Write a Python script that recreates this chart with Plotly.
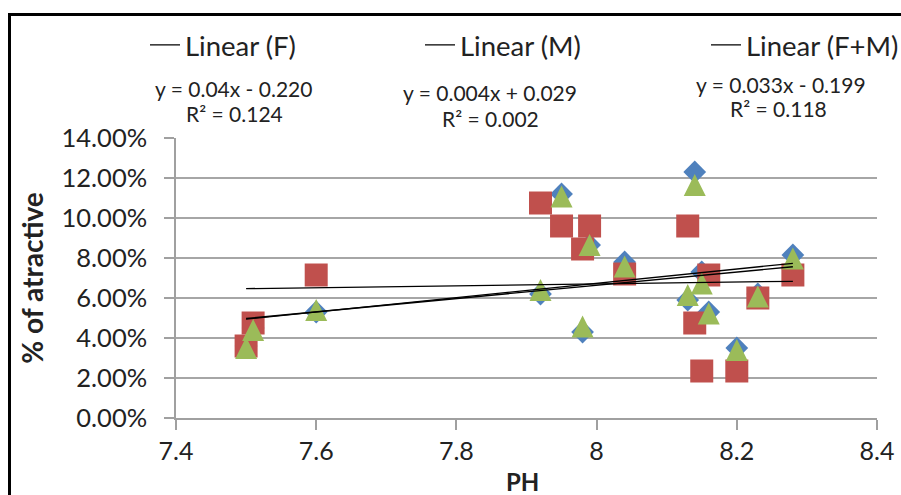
import numpy as np
import plotly.graph_objects as go

# ---- data ----
ph = [7.50, 7.51, 7.60, 7.92, 7.95, 7.98, 7.99, 8.04, 8.13, 8.14, 8.15, 8.16, 8.20, 8.23, 8.28]
pct_F = [0.036, 0.045, 0.053, 0.062, 0.112, 0.043, 0.0865, 0.078, 0.059, 0.123, 0.073, 0.053, 0.035, 0.062, 0.0815]
pct_M = [0.036, 0.0475, 0.0715, 0.1075, 0.096, 0.0845, 0.096, 0.072, 0.096, 0.0475, 0.0235, 0.0715, 0.0235, 0.060, 0.0715]
pct_FM = [0.035, 0.044, 0.054, 0.064, 0.1107, 0.0457, 0.0865, 0.0757, 0.0615, 0.1165, 0.0673, 0.0523, 0.034, 0.0607, 0.0798]

series_names = ["F", "M", "F+M"]
equations = ["y = 0.04x - 0.220", "y = 0.004x + 0.029", "y = 0.033x - 0.199"]
r2_labels = ["R² = 0.124", "R² = 0.002", "R² = 0.118"]

x_ticks = [7.4, 7.6, 7.8, 8.0, 8.2, 8.4]
x_tick_text = ["7.4", "7.6", "7.8", "8", "8.2", "8.4"]
y_ticks = [0.0, 0.02, 0.04, 0.06, 0.08, 0.10, 0.12, 0.14]
x_title = "PH"
y_title = "% of atractive"

FONT = "Lato"
TXT = "#222222"

fig = go.Figure()

# markers: F (blue diamonds), M (red squares), F+M (green triangles)
fig.add_trace(go.Scatter(x=ph, y=pct_F, mode="markers", name="F", showlegend=False,
                         marker=dict(symbol="diamond", size=17.5, color="#4F81BD")))
fig.add_trace(go.Scatter(x=ph, y=pct_M, mode="markers", name="M", showlegend=False,
                         marker=dict(symbol="square", size=23, color="#C0504D")))
fig.add_trace(go.Scatter(x=ph, y=pct_FM, mode="markers", name="F+M", showlegend=False,
                         marker=dict(symbol="arrow-down", angle=180, standoff=11, size=22,
                                     color="#9BBB59")))

# linear trendlines computed from the data
xs = np.array(ph)
xline = np.array([xs.min(), xs.max()])
legends = ["legend", "legend2", "legend3"]
for name, vals, lg in zip(series_names, [pct_F, pct_M, pct_FM], legends):
    a, b = np.polyfit(xs, np.array(vals), 1)
    fig.add_trace(go.Scatter(x=xline, y=a * xline + b, mode="lines",
                             name=f"Linear ({name})", legend=lg,
                             line=dict(color="black", width=1.3)))

W, H = 901, 495
L, R, T, B = 176, 24, 138, 77
pw, ph_px = W - L - R, H - T - B

def px_x(p):
    return (p - L) / pw

def px_y(p):
    return (H - B - p) / ph_px

leg_common = dict(orientation="h", xanchor="left", yanchor="middle",
                  font=dict(family=FONT, size=27.5, color=TXT),
                  bgcolor="rgba(0,0,0,0)", borderwidth=0)

eq_pos = [(233, 88, 234, 113), (490, 93, 490, 118), (781, 84, 778, 109)]
annotations = []
for eq, r2, (ex, ey, rx, ry) in zip(equations, r2_labels, eq_pos):
    annotations.append(dict(text=eq, x=px_x(ex), y=px_y(ey), xref="paper", yref="paper",
                            showarrow=False, xanchor="center", yanchor="middle",
                            font=dict(family=FONT, size=21, color=TXT)))
    annotations.append(dict(text=r2, x=px_x(rx), y=px_y(ry), xref="paper", yref="paper",
                            showarrow=False, xanchor="center", yanchor="middle",
                            font=dict(family=FONT, size=21, color=TXT)))
# x-axis title, placed as low as possible while staying fully visible
annotations.append(dict(text=f"<b>{x_title}</b>", x=px_x(522), y=px_y(481), xref="paper", yref="paper",
                        showarrow=False, xanchor="center", yanchor="middle",
                        font=dict(family=FONT, size=24, color=TXT)))

fig.update_layout(
    width=W, height=H,
    margin=dict(l=L, r=R, t=T, b=B, autoexpand=False),
    paper_bgcolor="white", plot_bgcolor="white",
    font=dict(family=FONT, color=TXT),
    legend=dict(**leg_common, x=px_x(145), y=px_y(45)),
    legend2=dict(**leg_common, x=px_x(420), y=px_y(45)),
    legend3=dict(**leg_common, x=px_x(706), y=px_y(45)),
    annotations=annotations,
    shapes=[dict(type="rect", xref="paper", yref="paper",
                 x0=px_x(9.5), x1=1.2, y0=-0.6, y1=px_y(14.5),
                 line=dict(color="black", width=3), fillcolor="rgba(0,0,0,0)", layer="above")],
)

fig.update_xaxes(range=[7.4, 8.4], tickvals=x_ticks, ticktext=x_tick_text,
                 showgrid=False, zeroline=False,
                 showline=True, linecolor="#A0A0A0", linewidth=1.5,
                 ticks="outside", ticklen=10, tickwidth=1.5, tickcolor="#A0A0A0",
                 tickfont=dict(family=FONT, size=25, color=TXT))
fig.update_yaxes(range=[0, 0.14], tickvals=y_ticks, tickformat=".2%",
                 showgrid=True, gridcolor="#A6A6A6", gridwidth=1.5, zeroline=False,
                 showline=True, linecolor="#A0A0A0", linewidth=1.5,
                 ticks="outside", ticklen=10, tickwidth=1.5, tickcolor="#A0A0A0",
                 ticklabelstandoff=12,
                 tickfont=dict(family=FONT, size=25.5, color=TXT),
                 title=dict(text=f"<b>{y_title}</b>", font=dict(family=FONT, size=28, color=TXT), standoff=10))

fig.write_html("out.html", config={"displayModeBar": False},
               post_script="document.body.style.margin='0';document.body.style.overflow='hidden';")
